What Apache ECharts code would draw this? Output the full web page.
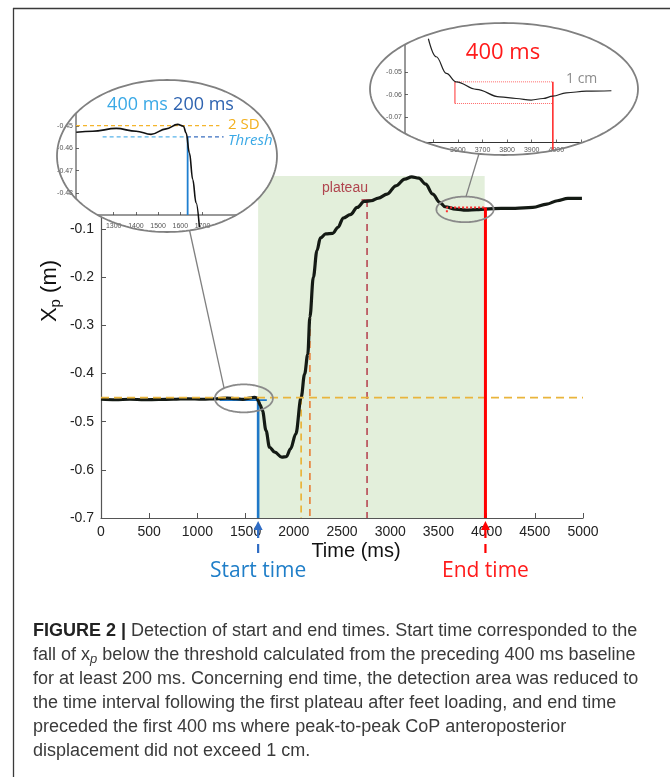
<!DOCTYPE html>
<html>
<head>
<meta charset="utf-8">
<script src="https://cdn.jsdelivr.net/npm/echarts@6/dist/echarts.min.js"></script>
<style>
  html, body { margin: 0; padding: 0; background: #fff; }
  #chart { width: 670px; height: 777px; }
</style>
</head>
<body>
<div id="chart"></div>
<script>
// ---- CoP anteroposterior position x_p (m) against time (ms) ----
const timeMs = [0, 150, 300, 450, 600, 750, 900, 1050, 1200, 1310, 1400, 1470, 1540, 1590, 1615,
  1631, 1650, 1675, 1712, 1748, 1803, 1876, 1923, 1966, 2021, 2076, 2112, 2145, 2167, 2203, 2240,
  2276, 2331, 2404, 2458, 2513, 2586, 2658, 2731, 2804, 2877, 2968, 3059, 3150, 3223, 3296, 3368,
  3441, 3514, 3569, 3678, 3787, 3897, 3988, 4151, 4297, 4479, 4625, 4734, 4843, 4989];
const xpValues = [-0.4535, -0.4545, -0.4535, -0.4545, -0.454, -0.4535, -0.4525, -0.4535, -0.4525,
  -0.451, -0.4523, -0.4537, -0.4512, -0.4495, -0.4505, -0.4566, -0.465, -0.4772, -0.5186, -0.5531,
  -0.5634, -0.5738, -0.5724, -0.5566, -0.5255, -0.4497, -0.4014, -0.36, -0.2828, -0.2, -0.1448,
  -0.1186, -0.1103, -0.109, -0.0966, -0.0772, -0.0703, -0.0552, -0.0428, -0.0414, -0.0359, -0.0276,
  -0.0103, 0.0034, 0.0083, 0.0055, -0.0069, -0.0276, -0.0448, -0.0538, -0.0586, -0.0607, -0.06,
  -0.0586, -0.0572, -0.0572, -0.0552, -0.0483, -0.0414, -0.0366, -0.0366];

// Zoomed view around the start of the movement
const startZoomTime = [1131, 1205, 1311, 1401, 1468, 1536, 1588, 1614, 1626, 1641, 1656, 1671, 1686];
const startZoomXp = [-0.4527, -0.4523, -0.451, -0.4523, -0.4537, -0.4512, -0.4492, -0.45, -0.453,
  -0.462, -0.474, -0.4845, -0.4955];

// Zoomed view around the end of the movement
const endZoomTime = [3480, 3512, 3553, 3593, 3675, 3770, 3837, 3898, 3946, 3986, 4040, 4122, 4224];
const endZoomXp = [-0.0355, -0.0434, -0.0507, -0.0544, -0.0577, -0.061, -0.0617, -0.0624, -0.0617,
  -0.0607, -0.0592, -0.0585, -0.0583];

// Detected events and reference levels
const startTime = 1630;
const endTime = 3988;
const zoneEnd = 3980;
const baselineLevel = -0.45;
const thresholdLevel = -0.4552;
const baselineWindowStart = 1230;
const thresholdSegEnd = 1720;
const yellowCrossTime = 2076;
const orangeCrossTime = 2167;
const orangeLevel = -0.2828;
const plateauTime = 2760;
const plateauLevel = -0.04;
const plateauTick = [2702, 2822];
const endLevel = -0.0552;
const stableWindow = [3588, 3988];
const stableBand = [-0.0552, -0.0652];

// Zoom annotations
const zStartBase = -0.4497, zStartThresh = -0.4548, zStartArrowLevel = -0.4469;
const zStartWin400 = [1250, 1630], zStartWin200 = [1638, 1790], zStartDashEnd = 1795, zSdTime = 1784;
const zEndTop = -0.0544, zEndBottom = -0.0639, zEndWin = [3588, 3986], zEndArrowLevel = -0.0503;
const zEndCmTime = 4018, zEndLineBottom = -0.0845;

// Tick values
const xTicks = [0, 500, 1000, 1500, 2000, 2500, 3000, 3500, 4000, 4500, 5000];
const yTicks = [-0.7, -0.6, -0.5, -0.4, -0.3, -0.2, -0.1];
const zsXTicks = [1300, 1400, 1500, 1600, 1700];
const zsYTicks = [-0.48, -0.47, -0.46, -0.45];
const zeXTicks = [3500, 3600, 3700, 3800, 3900, 4000, 4100];
const zeXLabels = [3600, 3700, 3800, 3900, 4000];
const zeYTicks = [-0.07, -0.06, -0.05];

const FONT_AX = '"Liberation Sans", Arial, sans-serif';
const FONT_ANN = '"Open Sans", sans-serif';

const chart = echarts.init(document.getElementById('chart'));

const zip = (a, b) => a.map((v, i) => [v, b[i]]);

function guide(gi, pts, color, width, dash, z, clip) {
  return {
    type: 'line', xAxisIndex: gi, yAxisIndex: gi, data: pts, symbol: 'none', silent: true,
    clip: clip !== false, z: z,
    lineStyle: { color: color, width: width, type: dash || 'solid', cap: 'butt' }
  };
}

function arrowSeries(gi, list, z) {
  return {
    type: 'line', xAxisIndex: gi, yAxisIndex: gi, data: [list[0].from], symbol: 'none',
    lineStyle: { width: 0 }, silent: true, clip: false, z: z,
    markLine: {
      silent: true, animation: false, label: { show: false },
      data: list.map(a => [
        { coord: a.from, symbol: 'arrow', symbolSize: a.size, lineStyle: { color: a.color, width: a.width, type: 'solid' } },
        { coord: a.to, symbol: 'arrow', symbolSize: a.size }
      ])
    }
  };
}

function smallAxis(gi, min, max, ticks, labels, fmt, z, margin) {
  return {
    type: 'value', gridIndex: gi, min: min, max: max, z: z,
    axisLine: { show: false, onZero: false },
    splitLine: { show: false },
    axisTick: { show: true, inside: true, length: 3, lineStyle: { color: '#444', width: 0.8 }, customValues: ticks },
    axisLabel: { show: true, customValues: labels, fontSize: 7, color: '#555', fontFamily: FONT_AX,
      margin: margin, formatter: fmt }
  };
}

const option = {
  animation: false,
  backgroundColor: '#ffffff',
  grid: [
    { left: 101, top: 176, width: 482, height: 342 },
    { left: 76, top: 104, width: 159.8, height: 111 },
    { left: 405, top: 49, width: 212.8, height: 93.5 }
  ],
  xAxis: [
    {
      type: 'value', gridIndex: 0, min: 0, max: 5000,
      axisLine: { show: true, onZero: false, lineStyle: { color: '#555', width: 1.2 } },
      axisTick: { show: true, inside: true, length: 5, lineStyle: { color: '#555' }, customValues: xTicks },
      axisLabel: { customValues: xTicks, fontSize: 14, color: '#222', fontFamily: FONT_AX, margin: 7,
        formatter: v => String(v) },
      splitLine: { show: false }
    },
    smallAxis(1, 1130, 1850, zsXTicks, zsXTicks, v => String(v), 21, 8),
    smallAxis(2, 3385, 4250, zeXTicks, zeXLabels, v => String(v), 21, 4)
  ],
  yAxis: [
    {
      type: 'value', gridIndex: 0, min: -0.7, max: 0.01,
      axisLine: { show: true, onZero: false, lineStyle: { color: '#555', width: 1.2 } },
      axisTick: { show: true, inside: true, length: 5, lineStyle: { color: '#555' }, customValues: yTicks },
      axisLabel: { customValues: yTicks, fontSize: 14, color: '#222', fontFamily: FONT_AX, margin: 7,
        formatter: v => v.toFixed(1) },
      splitLine: { show: false }
    },
    smallAxis(1, -0.49, -0.44, zsYTicks, zsYTicks, v => v.toFixed(2), 21, 3),
    smallAxis(2, -0.081, -0.04, zeYTicks, zeYTicks, v => v.toFixed(2), 21, 3)
  ],
  series: [
    // detection window
    {
      type: 'line', xAxisIndex: 0, yAxisIndex: 0, data: [[startTime, -0.7]], symbol: 'none',
      lineStyle: { width: 0 }, silent: true, z: 1,
      markArea: {
        silent: true, itemStyle: { color: '#e3efdb' },
        data: [[{ coord: [startTime, -0.7] }, { coord: [zoneEnd, 0.01] }]]
      }
    },
    guide(0, [[yellowCrossTime, baselineLevel], [yellowCrossTime, -0.7]], '#e9b53c', 1.7, [7, 5], 2),
    guide(0, [[orangeCrossTime, orangeLevel], [orangeCrossTime, -0.7]], '#e8843e', 1.7, [7, 5], 2),
    guide(0, [[plateauTime, plateauLevel], [plateauTime, -0.7]], '#b9515a', 1.7, [7, 5], 2),
    guide(0, [[plateauTick[0], plateauLevel], [plateauTick[1], plateauLevel]], '#b9515a', 2, 'solid', 2),
    guide(0, [[baselineWindowStart, thresholdLevel], [thresholdSegEnd, thresholdLevel]], '#1f78c8', 1.6, 'solid', 3),
    guide(0, [[startTime, thresholdLevel], [startTime, -0.7]], '#1f78c8', 2.6, 'solid', 3),
    {
      type: 'line', xAxisIndex: 0, yAxisIndex: 0, data: zip(timeMs, xpValues), symbol: 'none',
      smooth: 0.35, smoothMonotone: 'x', silent: true, z: 5,
      lineStyle: { color: '#141a14', width: 3.2, join: 'round' }
    },
    guide(0, [[0, baselineLevel], [5000, baselineLevel]], '#e9b53c', 1.7, [8, 5], 6),
    guide(0, [[stableWindow[0], stableBand[1]], [stableWindow[0], stableBand[0]], [stableWindow[1], stableBand[0]]],
      '#ff3030', 2, [2, 2], 6),
    guide(0, [[endTime, endLevel], [endTime, -0.7]], '#ff0000', 3, 'solid', 7),

    // start zoom
    guide(1, [[1130, zStartBase], [1776, zStartBase]], '#f4b52c', 1.2, [4, 3], 22, false),
    guide(1, [[zStartWin400[0], zStartThresh], [startTime, zStartThresh]], '#58b4ea', 1.2, [4, 3], 22, false),
    guide(1, [[startTime, zStartThresh], [zStartDashEnd, zStartThresh]], '#3a6fc0', 1.2, [4, 3], 22, false),
    guide(1, [[1633, zStartThresh], [1633, -0.49]], '#1f7fd0', 1.8, 'solid', 22),
    {
      type: 'line', xAxisIndex: 1, yAxisIndex: 1, data: zip(startZoomTime, startZoomXp), symbol: 'none',
      smooth: 0.4, smoothMonotone: 'x', silent: true, clip: false, z: 23,
      lineStyle: { color: '#111', width: 1.6 }
    },
    arrowSeries(1, [
      { from: [zStartWin400[0], zStartArrowLevel], to: [zStartWin400[1], zStartArrowLevel], color: '#3aa9e6', width: 1.4, size: [6, 8] },
      { from: [zStartWin200[0], zStartArrowLevel], to: [zStartWin200[1], zStartArrowLevel], color: '#2e63b0', width: 1.4, size: [6, 8] },
      { from: [zSdTime, zStartBase], to: [zSdTime, zStartThresh], color: '#f2b01e', width: 1.2, size: [4, 5] }
    ], 23),

    // end zoom
    guide(2, [[zEndWin[0], zEndTop], [zEndWin[1], zEndTop]], '#ff6a6a', 1, 'dotted', 22),
    guide(2, [[zEndWin[0], zEndBottom], [zEndWin[1], zEndBottom]], '#ff6a6a', 1, 'dotted', 22),
    guide(2, [[zEndWin[0], zEndTop], [zEndWin[0], zEndBottom]], '#ff3030', 1, 'solid', 22),
    guide(2, [[zEndWin[1], zEndTop], [zEndWin[1], zEndLineBottom]], '#ff2020', 1.5, 'solid', 22, false),
    {
      type: 'line', xAxisIndex: 2, yAxisIndex: 2, data: zip(endZoomTime, endZoomXp), symbol: 'none',
      smooth: 0.4, smoothMonotone: 'x', silent: true, clip: false, z: 23,
      lineStyle: { color: '#222', width: 1.2 }
    },
    arrowSeries(2, [
      { from: [zEndWin[0], zEndArrowLevel], to: [zEndWin[1], zEndArrowLevel], color: '#ff1a1a', width: 2, size: [7, 9] },
      { from: [zEndCmTime, -0.0551], to: [zEndCmTime, zEndBottom], color: '#8c8c8c', width: 1.6, size: [6, 6] }
    ], 23)
  ]
};

chart.setOption(option);

// ---------- decorations drawn in pixel space ----------
const P = (g, t, v) => chart.convertToPixel({ gridIndex: g }, [t, v]);
const ctx = document.createElement('canvas').getContext('2d');
const tw = (font, s) => { ctx.font = font; return ctx.measureText(s).width; };

function ellipsePts(cx, cy, rx, ry) {
  const pts = [];
  for (let i = 0; i < 180; i++) {
    const a = 2 * Math.PI * i / 180;
    pts.push([cx + rx * Math.cos(a), cy + ry * Math.sin(a)]);
  }
  return pts;
}
function text(x, y, s, font, fill, align, z) {
  return {
    type: 'text', x: x, y: y, z: z || 40, silent: true,
    style: { text: s, font: font, fill: fill, align: align || 'center', textAlign: align || 'center',
      verticalAlign: 'middle', textVerticalAlign: 'middle' }
  };
}
function line(x1, y1, x2, y2, stroke, w, z, dash) {
  return { type: 'line', z: z, silent: true, shape: { x1, y1, x2, y2 },
    style: { stroke: stroke, lineWidth: w, lineDash: dash || null } };
}

const els = [];

// figure frame
els.push(line(13, 8.5, 670, 8.5, '#3a3a3a', 1.3, 1));
els.push(line(13.5, 8, 13.5, 777, '#3a3a3a', 1.3, 1));

// magnifier ellipses
const bigL = { cx: 167, cy: 156, rx: 110, ry: 76 };
const bigR = { cx: 504, cy: 89, rx: 134, ry: 66 };
[bigL, bigR].forEach(e => {
  els.push({ type: 'polygon', z: 20, silent: true, shape: { points: ellipsePts(e.cx, e.cy, e.rx, e.ry) },
    style: { fill: '#ffffff', stroke: null } });
  els.push({ type: 'polygon', z: 30, silent: true, shape: { points: ellipsePts(e.cx, e.cy, e.rx, e.ry) },
    style: { fill: null, stroke: '#808080', lineWidth: 1.8 } });
});

// axis lines of the zoomed views, kept within their ellipses
function insetAxes(g, e, xmin, ymin) {
  const o = P(g, xmin, ymin);
  const dx = (o[0] - e.cx) / e.rx;
  const yr = e.ry * Math.sqrt(Math.max(0, 1 - dx * dx));
  els.push(line(o[0], e.cy - yr, o[0], Math.min(e.cy + yr, o[1]), '#333', 1, 21));
  const dy = (o[1] - e.cy) / e.ry;
  const xr = e.rx * Math.sqrt(Math.max(0, 1 - dy * dy));
  els.push(line(Math.max(e.cx - xr, o[0]), o[1], e.cx + xr, o[1], '#333', 1, 21));
}
insetAxes(1, bigL, 1130, -0.49);
insetAxes(2, bigR, 3385, -0.081);

// small ellipses on the main trace + connectors
const sL = P(0, 1482, -0.4517), sR = P(0, 3776, -0.0593);
const smallL = { cx: sL[0], cy: sL[1], rx: 29, ry: 14 };
const smallR = { cx: sR[0], cy: sR[1], rx: 28.6, ry: 12.8 };
[smallL, smallR].forEach(e => {
  els.push({ type: 'polygon', z: 9, silent: true, shape: { points: ellipsePts(e.cx, e.cy, e.rx, e.ry) },
    style: { fill: null, stroke: '#8a8a8a', lineWidth: 1.8 } });
});
const aL = 133 * Math.PI / 180;
els.push(line(189.5, 230, smallL.cx + smallL.rx * Math.cos(aL), smallL.cy - smallL.ry * Math.sin(aL), '#808080', 1.3, 25));
els.push(line(478.9, 154, smallR.cx + 1, smallR.cy - smallR.ry, '#808080', 1.3, 25));

// start / end markers below the time axis
function timeMarker(t, color) {
  const p = P(0, t, -0.7);
  const tip = p[1] + 3;
  els.push({ type: 'polygon', z: 10, silent: true,
    shape: { points: [[p[0], tip], [p[0] - 4.5, tip + 9], [p[0] + 4.5, tip + 9]] },
    style: { fill: color } });
  els.push(line(p[0], tip + 8, p[0], tip + 34, color, 2.2, 10, [9, 6]));
  return p[0];
}
const sx = timeMarker(startTime, '#2f6cc4');
const ex = timeMarker(endTime, '#ff0000');
els.push(text(sx, 571, 'Start time', '21px ' + FONT_ANN, '#1f7ec8'));
els.push(text(ex, 571, 'End time', '21px ' + FONT_ANN, '#ff1a1a'));

// axis titles
els.push(text(356, 551, 'Time (ms)', '20px ' + FONT_AX, '#111'));
(function () {
  const fX = '22px ' + FONT_AX, fP = '15px ' + FONT_AX;
  const wX = tw(fX, 'X'), wP = tw(fP, 'p'), wM = tw(fX, ' (m)');
  const x0 = -(wX + wP + wM) / 2;
  els.push({ type: 'group', x: 50, y: 291, rotation: Math.PI / 2, z: 40, children: [
    text(x0, 0, 'X', fX, '#111', 'left'),
    text(x0 + wX, 6, 'p', fP, '#111', 'left'),
    text(x0 + wX + wP, 0, ' (m)', fX, '#111', 'left')
  ] });
})();

// plateau label
const pl = P(0, 2531, -0.0152);
els.push(text(pl[0], pl[1], 'plateau', '14px ' + FONT_AX, '#b0444e'));

// annotations of the start zoom
els.push(text(137.5, 105, '400 ms', '18px ' + FONT_ANN, '#3aa9e6', 'center', 35));
els.push(text(203.5, 105, '200 ms', '18px ' + FONT_ANN, '#2e63b0', 'center', 35));
els.push(text(228, 125, '2 SD', '15px ' + FONT_ANN, '#f2b01e', 'left', 35));
els.push(text(228, 141, 'Thresh', 'italic 15px ' + FONT_ANN, '#3aa9e6', 'left', 35));

// annotations of the end zoom
els.push(text(503, 53, '400 ms', '22px ' + FONT_ANN, '#ff1a1a', 'center', 35));
els.push(text(566, 79, '1 cm', '14px ' + FONT_ANN, '#8c8c8c', 'left', 35));

// caption
const capFont = '18px ' + FONT_AX;
const capBold = 'bold 18px ' + FONT_AX;
const capX = 33, capY0 = 631, capDy = 24, capColor = '#3a3a3a';
const head = 'FIGURE 2 |';
els.push(text(capX, capY0, head, capBold, '#222', 'left', 2));
els.push(text(capX + tw(capBold, head), capY0,
  ' Detection of start and end times. Start time corresponded to the', capFont, capColor, 'left', 2));
const l2a = 'fall of x';
els.push(text(capX, capY0 + capDy, l2a, capFont, capColor, 'left', 2));
const subFont = 'italic 13px ' + FONT_AX;
els.push(text(capX + tw(capFont, l2a), capY0 + capDy + 4, 'p', subFont, capColor, 'left', 2));
els.push(text(capX + tw(capFont, l2a) + tw(subFont, 'p'), capY0 + capDy,
  ' below the threshold calculated from the preceding 400 ms baseline', capFont, capColor, 'left', 2));
[
  'for at least 200 ms. Concerning end time, the detection area was reduced to',
  'the time interval following the first plateau after feet loading, and end time',
  'preceded the first 400 ms where peak-to-peak CoP anteroposterior',
  'displacement did not exceed 1 cm.'
].forEach((s, i) => els.push(text(capX, capY0 + capDy * (i + 2), s, capFont, capColor, 'left', 2)));

chart.setOption({ graphic: { elements: els } });
</script>
</body>
</html>
